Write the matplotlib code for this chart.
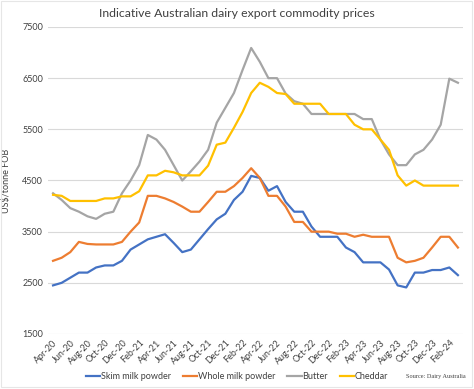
import matplotlib
matplotlib.use("Agg")
import matplotlib.pyplot as plt
from matplotlib.patches import Rectangle
import numpy as np
import pandas as pd

# monthly, Apr-20 .. Mar-24
months = pd.date_range("2020-04-01", "2024-03-01", freq="MS")

skim_milk_powder = [2450, 2500, 2600, 2700, 2700, 2800, 2840, 2840, 2930, 3150,
                    3250, 3350, 3400, 3450, 3280, 3100, 3150, 3350, 3550, 3740,
                    3850, 4120, 4280, 4590, 4550, 4300, 4390, 4080, 3890, 3890,
                    3600, 3400, 3400, 3400, 3190, 3100, 2900, 2900, 2900, 2760,
                    2450, 2410, 2700, 2700, 2750, 2750, 2800, 2650]
whole_milk_powder = [2930, 2990, 3100, 3300, 3260, 3250, 3250, 3250, 3300, 3500,
                     3680, 4200, 4200, 4150, 4080, 3990, 3890, 3890, 4080, 4280,
                     4280, 4390, 4550, 4740, 4550, 4200, 4200, 3990, 3690, 3690,
                     3500, 3500, 3500, 3460, 3460, 3400, 3440, 3400, 3400, 3400,
                     2990, 2900, 2930, 2990, 3190, 3400, 3400, 3190]
butter = [4250, 4120, 3960, 3890, 3800, 3750, 3850, 3890, 4250, 4500,
          4800, 5390, 5300, 5100, 4800, 4500, 4680, 4870, 5100, 5630,
          5920, 6210, 6660, 7090, 6820, 6500, 6500, 6200, 6050, 6000,
          5800, 5800, 5800, 5800, 5800, 5800, 5700, 5700, 5300, 5010,
          4800, 4800, 5010, 5100, 5300, 5590, 6490, 6410]
cheddar = [4220, 4200, 4100, 4100, 4100, 4100, 4150, 4150, 4190, 4190,
           4290, 4600, 4600, 4690, 4660, 4600, 4600, 4600, 4790, 5200,
           5240, 5530, 5840, 6210, 6410, 6330, 6210, 6190, 6000, 6000,
           6000, 6000, 5800, 5800, 5800, 5590, 5500, 5500, 5300, 5100,
           4600, 4400, 4500, 4400, 4400, 4400, 4400, 4400]

series = [("Skim milk powder", skim_milk_powder, "#4472C4"),
          ("Whole milk powder", whole_milk_powder, "#ED7D31"),
          ("Butter", butter, "#A5A5A5"),
          ("Cheddar", cheddar, "#FFC000")]

plt.rcParams['font.family'] = ['Lato', 'DejaVu Sans']

fig = plt.figure(figsize=(4.74, 3.89), dpi=100)
ax = fig.add_axes([0.101, 0.1414, 0.876, 0.7892])

x = np.arange(len(months))
for name, vals, col in series:
    ax.plot(x, vals, color=col, lw=1.6, label=name)

ax.set_ylim(1500, 7500)
ax.set_yticks([1500, 2500, 3500, 4500, 5500, 6500, 7500])
ax.set_xlim(-0.6, len(months) - 0.4)
ax.set_xticks(x[::2])
ax.set_xticklabels([m.strftime("%b-%y") for m in months[::2]],
                   rotation=45, ha="right", rotation_mode="anchor")
ax.tick_params(axis="both", length=0, labelsize=6.5, colors="#404040")
ax.tick_params(axis="x", pad=3)
ax.grid(axis="y", color="#D9D9D9", lw=0.8)
ax.set_axisbelow(True)
for s in ax.spines.values():
    s.set_visible(False)

ax.set_ylabel("US$/tonne FOB", fontsize=6.5, color="#404040", labelpad=8)
fig.text(0.5, 0.965, "Indicative Australian dairy export commodity prices",
         ha="center", va="center", fontsize=8.8, color="#404040")

fig.legend(loc="center", bbox_to_anchor=(0.5, 0.031), ncol=4, frameon=False,
           fontsize=6.5, handlelength=1.6, handletextpad=0.1, columnspacing=1.3,
           labelcolor="#404040")
fig.text(0.982, 0.031, "Source: Dairy Australia", ha="right", va="center",
         fontsize=4.5, family="Liberation Serif", color="#404040")

fig.patches.append(Rectangle((0.002, 0.004), 0.994, 0.994, transform=fig.transFigure,
                             fill=False, ec="#E6E6E6", lw=0.8))

fig.savefig("out.png", dpi=100)
